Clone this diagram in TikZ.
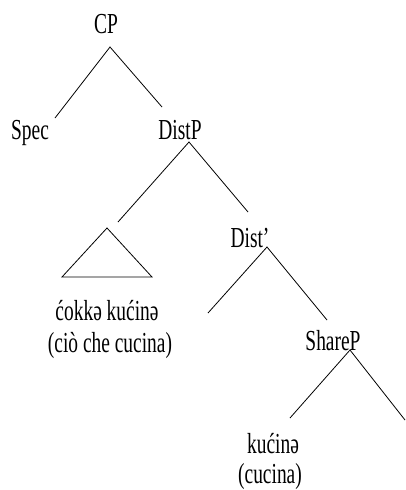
\documentclass[tikz,border=0pt]{standalone}
\usepackage{fontspec}
\setmainfont[FakeStretch=0.67]{Liberation Serif}
\begin{document}
\begin{tikzpicture}[x=1pt,y=-1pt,line width=0.8pt,
    every node/.style={font=\fontsize{29}{32}\selectfont, inner sep=0pt, anchor=base}]
    \useasboundingbox (0,0) rectangle (406,490);
    % CP and its two daughters
    \node (cp) at (106,33) {CP};
    \node (spec) at (30,139) {Spec};
    \node (distp) at (180,139) {DistP};
    \coordinate (cp-top) at (110,47);
    \coordinate (cp-l) at (55,118);
    \coordinate (cp-r) at (162,107);
    \draw (cp-l) -- (cp-top) -- (cp-r);
    % DistP: moved phrase under a triangle
    \coordinate (distp-top) at (189,142);
    \coordinate (distp-l) at (118,222);
    \coordinate (distp-r) at (248,212);
    \draw (distp-l) -- (distp-top) -- (distp-r);
    \coordinate (tri-top) at (107,228);
    \coordinate (tri-l) at (62,277);
    \coordinate (tri-r) at (152,277);
    \draw (tri-l) -- (tri-top) -- (tri-r) -- cycle;
    \node (phrase) at (107,320) {ćokkə kućinə};
    \node (phrase-it) at (110,352) {(ciò che cucina)};
    % Dist'
    \node (dist) at (250,247) {Dist’};
    \coordinate (dist-top) at (267,247);
    \coordinate (dist-l) at (208,313);
    \coordinate (dist-r) at (327,320);
    \draw (dist-l) -- (dist-top) -- (dist-r);
    % ShareP
    \node (sharep) at (333,350) {ShareP};
    \coordinate (sharep-top) at (350,350);
    \coordinate (sharep-l) at (290,418);
    \coordinate (sharep-r) at (405,420);
    \draw (sharep-l) -- (sharep-top) -- (sharep-r);
    \node (verb) at (273,453) {kućinə};
    \node (verb-it) at (270,483) {(cucina)};
\end{tikzpicture}
\end{document}
